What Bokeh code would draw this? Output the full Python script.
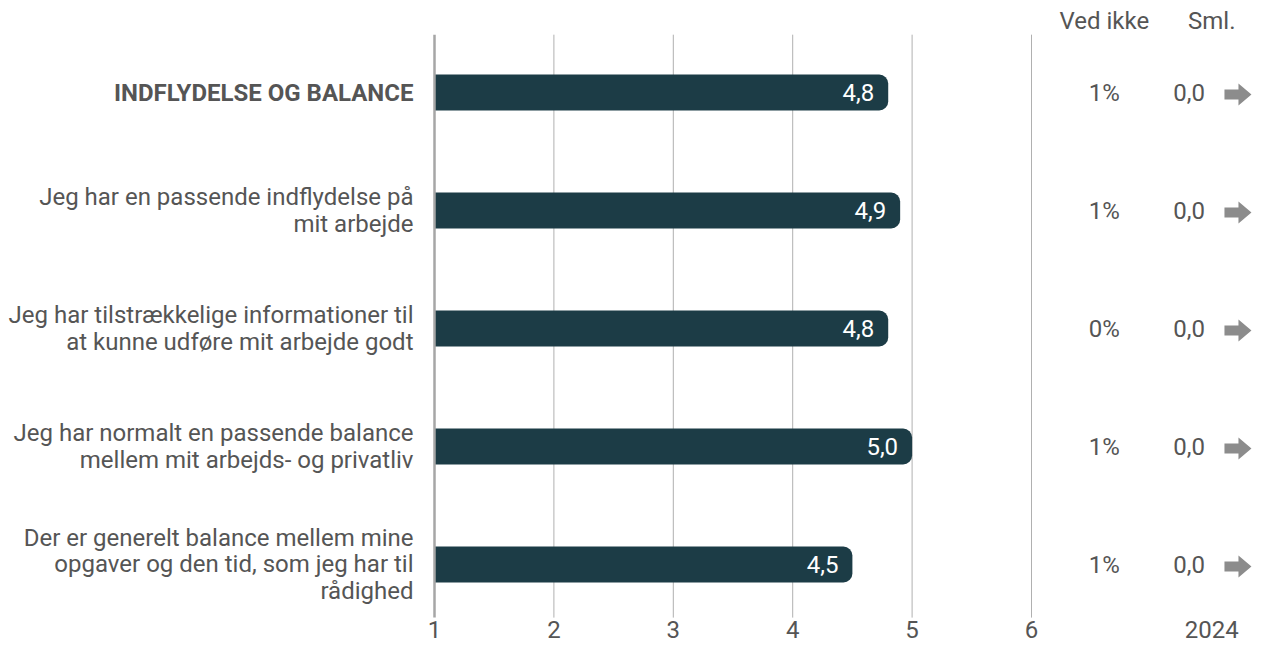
from bokeh.plotting import figure
from bokeh.models import Range1d, ColumnDataSource
from bokeh.core.properties import value
from bokeh.embed import file_html
from bokeh.resources import INLINE

# ---------------- data ----------------
LABELS = [
    "INDFLYDELSE OG BALANCE",
    "Jeg har en passende indflydelse på\nmit arbejde",
    "Jeg har tilstrækkelige informationer til\nat kunne udføre mit arbejde godt",
    "Jeg har normalt en passende balance\nmellem mit arbejds- og privatliv",
    "Der er generelt balance mellem mine\nopgaver og den tid, som jeg har til\nrådighed",
]
LABEL_STYLE = ["bold", "normal", "normal", "normal", "normal"]
SCORES = [4.8, 4.9, 4.8, 5.0, 4.5]
SCORE_TEXT = ["4,8", "4,9", "4,8", "5,0", "4,5"]
VED_IKKE = ["1%", "1%", "0%", "1%", "1%"]
SML = ["0,0", "0,0", "0,0", "0,0", "0,0"]
TICKS = [1, 2, 3, 4, 5, 6]
TICK_TEXT = ["1", "2", "3", "4", "5", "6"]
HEADERS = ["Ved ikke", "Sml."]
YEAR = "2024"

# ---------------- layout ----------------
W, H = 1252, 646
PX_PER_UNIT = 119.4      # pixels per scale unit
X0_PX = 434              # canvas x of value 1
ROW0_PX = 92             # canvas y of first row
ROW_PX = 118             # pixels between rows
FONT = value("Roboto")
FS = "24px"
TXT = "#555555"
BAR = "#1c3c46"

X_VED = 6.61
X_SML = 7.32
X_HEAD_SML = 7.51
X_ARROW = 7.725
Y_HEAD = -0.61
Y_TICK = 4.555
GRID_TOP = -0.49
GRID_BOTTOM = 4.45

rows = list(range(len(LABELS)))

x_range = Range1d(1 - X0_PX / PX_PER_UNIT, 1 + (W - X0_PX) / PX_PER_UNIT)
y_range = Range1d((H - ROW0_PX) / ROW_PX, -ROW0_PX / ROW_PX)

p = figure(width=W, height=H, x_range=x_range, y_range=y_range,
           output_backend="svg", toolbar_location=None, min_border=0,
           x_axis_location=None, y_axis_location=None,
           outline_line_color=None, background_fill_color="white")
p.xgrid.visible = False
p.ygrid.visible = False

# grid lines
p.segment(x0=TICKS[1:], y0=GRID_TOP, x1=TICKS[1:], y1=GRID_BOTTOM,
          line_color="#b0b0b0", line_width=1)

# bars
src = ColumnDataSource(dict(y=rows, right=SCORES, txt=SCORE_TEXT,
                            label=LABELS, style=LABEL_STYLE,
                            ved=VED_IKKE, sml=SML))
p.hbar(y="y", left=1, right="right", height=36 / ROW_PX, source=src,
       fill_color=BAR, line_color=None, border_radius=(0, 9, 9, 0))

# axis line at 1
p.segment(x0=[TICKS[0]], y0=GRID_TOP, x1=[TICKS[0]], y1=GRID_BOTTOM,
          line_color="#a6a6a6", line_width=2.5)

# value labels inside bars
p.text(x="right", y="y", text="txt", source=src, x_offset=-14,
       text_align="right", text_baseline="middle", text_color="white",
       text_font=FONT, text_font_size=FS)

# category labels
p.text(x=1, y="y", text="label", source=src, x_offset=-21,
       text_align="right", text_baseline="middle", text_color=TXT,
       text_font=FONT, text_font_size=FS, text_font_style="style",
       text_line_height=0.955)

# Ved ikke column
p.text(x=X_VED, y="y", text="ved", source=src, text_align="center",
       text_baseline="middle", text_color=TXT, text_font=FONT, text_font_size=FS)
# Sml. column
p.text(x=X_SML, y="y", text="sml", source=src, text_align="center",
       text_baseline="middle", text_color=TXT, text_font=FONT, text_font_size=FS)

# arrows (shape in pixels around anchor)
ARROW_SHAPE = [(-13, -5), (1, -5), (1, -11), (14, 0), (1, 11), (1, 5), (-13, 5)]
xs, ys = [], []
for r in rows:
    xs.append([X_ARROW + dx / PX_PER_UNIT for dx, dy in ARROW_SHAPE])
    ys.append([r + (dy + 2) / ROW_PX for dx, dy in ARROW_SHAPE])
p.patches(xs=xs, ys=ys, fill_color="#8c8c8c", line_color=None)

# headers
p.text(x=[X_VED, X_HEAD_SML], y=[Y_HEAD, Y_HEAD], text=HEADERS,
       text_align="center", text_baseline="middle", text_color=TXT,
       text_font=FONT, text_font_size=FS)

# tick labels
p.text(x=TICKS + [X_HEAD_SML], y=[Y_TICK] * (len(TICKS) + 1),
       text=TICK_TEXT + [YEAR], text_align="center", text_baseline="middle",
       text_color=TXT, text_font=FONT, text_font_size=FS)

open("out.html", "w").write(file_html(p, INLINE))
